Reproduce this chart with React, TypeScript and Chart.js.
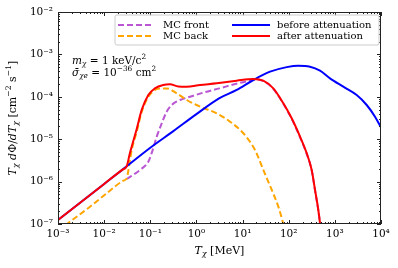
import { useEffect, useRef } from 'react';
import { Chart, registerables } from 'chart.js';

Chart.register(...registerables);

const FONT = '"DejaVu Serif", serif';

// ---- data (energies in MeV, flux in cm^-2 s^-1) ----
const frontEnergy = [0.0308, 0.0598, 0.0906, 0.107, 0.138, 0.177, 0.227, 0.291, 0.441, 0.726, 1.67, 3.16, 6.31, 12.6, 20, 28.1, 46.3, 76.4, 116, 176, 245, 315, 372, 438, 476, 525];
const frontFlux = [1.15e-6, 1.88e-6, 2.95e-6, 4.68e-6, 1.15e-5, 2.37e-5, 4.46e-5, 6.41e-5, 8.41e-5, 1.0e-4, 1.32e-4, 1.58e-4, 1.95e-4, 2.34e-4, 2.57e-4, 2.34e-4, 1.55e-4, 6.84e-5, 3.02e-5, 1.11e-5, 4.52e-6, 1.82e-6, 6.17e-7, 2.09e-7, 1.02e-7, 3.2e-8];

const backEnergy = [0.001, 0.00155, 0.00494, 0.01135, 0.026, 0.0308, 0.0334, 0.0363, 0.0395, 0.0508, 0.0652, 0.0906, 0.126, 0.163, 0.227, 0.374, 0.615, 1.2, 2.75, 5.35, 10.4, 18.6, 28.2, 42.9, 59.6, 74.1, 85];
const backFlux = [7.1e-8, 1.0e-7, 2.56e-7, 5.3e-7, 1.05e-6, 1.19e-6, 1.8e-6, 3.2e-6, 5.5e-6, 1.5e-5, 4.4e-5, 1.0e-4, 1.45e-4, 1.58e-4, 1.58e-4, 1.21e-4, 8.41e-5, 5.85e-5, 4.08e-5, 2.59e-5, 1.38e-5, 5.56e-6, 1.88e-6, 6.34e-7, 2.56e-7, 1.13e-7, 6e-8];

const beforeEnergy = [0.001, 0.01, 0.025, 0.0308, 0.1, 0.316, 1.0, 3.16, 7.46, 17.1, 39.4, 90.6, 161, 289, 476, 785, 1524, 2972, 4898, 7413, 10000];
const beforeFlux = [1.24e-7, 8.8e-7, 1.92e-6, 2.3e-6, 6.3e-6, 1.55e-5, 3.9e-5, 9.3e-5, 1.45e-4, 2.49e-4, 3.91e-4, 5.01e-4, 5.42e-4, 5.13e-4, 4.13e-4, 2.73e-4, 1.73e-4, 1.1e-4, 6.41e-5, 3.4e-5, 1.9e-5];

const afterEnergy = [0.001, 0.01, 0.025, 0.0308, 0.036, 0.0395, 0.0508, 0.0652, 0.0906, 0.126, 0.191, 0.267, 0.405, 0.615, 1.2, 2.75, 7.46, 17.1, 28.1, 46.3, 76.4, 116, 176, 245, 315, 372, 438, 476, 525];
const afterFlux = [1.24e-7, 8.8e-7, 1.92e-6, 2.3e-6, 4.6e-6, 6.65e-6, 1.75e-5, 4.9e-5, 1.1e-4, 1.58e-4, 1.9e-4, 1.97e-4, 1.75e-4, 1.73e-4, 1.9e-4, 2.08e-4, 2.4e-4, 2.63e-4, 2.4e-4, 1.58e-4, 7.03e-5, 3.11e-5, 1.15e-5, 4.68e-6, 1.88e-6, 6.34e-7, 2.14e-7, 1.05e-7, 3.2e-8];

const xTickValues = [1e-3, 1e-2, 1e-1, 1, 10, 100, 1e3, 1e4];
const xTickLabels = ['10⁻³', '10⁻²', '10⁻¹', '10⁰', '10¹', '10²', '10³', '10⁴'];
const yTickValues = [1e-7, 1e-6, 1e-5, 1e-4, 1e-3, 1e-2];
const yTickLabels = ['10⁻⁷', '10⁻⁶', '10⁻⁵', '10⁻⁴', '10⁻³', '10⁻²'];

const seriesLabels = ['MC front', 'MC back', 'before attenuation', 'after attenuation'];
const seriesColors = ['#BA55D3', '#FFA500', '#0000FF', '#FF0000'];
const DASH = [6, 3];

type Seg = { t: string; it?: boolean; sub?: boolean; sup?: boolean };

function segFont(s: Seg, size: number) {
  const sz = s.sub || s.sup ? size * 0.7 : size;
  return `${s.it ? 'italic ' : ''}${sz}px ${FONT}`;
}

function drawRich(ctx: CanvasRenderingContext2D, segs: Seg[], x: number, y: number, size: number, align: 'left' | 'center') {
  ctx.textBaseline = 'middle';
  ctx.textAlign = 'left';
  let total = 0;
  for (const s of segs) {
    ctx.font = segFont(s, size);
    total += ctx.measureText(s.t).width;
  }
  let cx = align === 'center' ? x - total / 2 : x;
  for (const s of segs) {
    ctx.font = segFont(s, size);
    const dy = s.sub ? size * 0.28 : s.sup ? -size * 0.38 : 0;
    ctx.fillText(s.t, cx, y + dy);
    cx += ctx.measureText(s.t).width;
  }
}

const overlay = {
  id: 'overlay',
  afterDraw(chart: any) {
    const { ctx, chartArea } = chart;
    const { left, right, top, bottom } = chartArea;
    const xs = chart.scales.x;
    const ys = chart.scales.y;
    ctx.save();
    ctx.strokeStyle = '#222';
    ctx.lineWidth = 1;
    ctx.setLineDash([]);
    ctx.beginPath();
    for (let e = -3; e <= 4; e++) {
      for (let m = 1; m <= 9; m++) {
        if (e === 4 && m > 1) break;
        const v = m * Math.pow(10, e);
        const px = Math.round(xs.getPixelForValue(v)) + 0.5;
        const len = m === 1 ? 4 : 2;
        ctx.moveTo(px, bottom);
        ctx.lineTo(px, bottom - len);
        ctx.moveTo(px, top);
        ctx.lineTo(px, top + len);
      }
    }
    for (let e = -7; e <= -2; e++) {
      for (let m = 1; m <= 9; m++) {
        if (e === -2 && m > 1) break;
        const v = m * Math.pow(10, e);
        const py = Math.round(ys.getPixelForValue(v)) + 0.5;
        const len = m === 1 ? 4 : 2;
        ctx.moveTo(left, py);
        ctx.lineTo(left + len, py);
        ctx.moveTo(right, py);
        ctx.lineTo(right - len, py);
      }
    }
    ctx.stroke();
    ctx.strokeRect(left + 0.5, top + 0.5, right - left - 1, bottom - top - 1);

    // legend
    const lx = 115, ly = 15, lw = 264, lh = 30;
    ctx.beginPath();
    const r = 2;
    ctx.moveTo(lx + r, ly);
    ctx.arcTo(lx + lw, ly, lx + lw, ly + lh, r);
    ctx.arcTo(lx + lw, ly + lh, lx, ly + lh, r);
    ctx.arcTo(lx, ly + lh, lx, ly, r);
    ctx.arcTo(lx, ly, lx + lw, ly, r);
    ctx.closePath();
    ctx.fillStyle = 'rgba(255,255,255,0.8)';
    ctx.fill();
    ctx.strokeStyle = '#cccccc';
    ctx.stroke();
    const items = [
      { x0: 118, x1: 152, tx: 163, y: 25, i: 0, dash: true },
      { x0: 118, x1: 152, tx: 163, y: 36, i: 1, dash: true },
      { x0: 232, x1: 270, tx: 277, y: 25, i: 2, dash: false },
      { x0: 232, x1: 270, tx: 277, y: 36, i: 3, dash: false },
    ];
    for (const it of items) {
      ctx.beginPath();
      ctx.strokeStyle = seriesColors[it.i];
      ctx.lineWidth = 2;
      ctx.setLineDash(it.dash ? DASH : []);
      ctx.moveTo(it.x0, it.y);
      ctx.lineTo(it.x1, it.y);
      ctx.stroke();
      ctx.setLineDash([]);
      ctx.fillStyle = '#000';
      ctx.font = `10px ${FONT}`;
      ctx.textBaseline = 'middle';
      ctx.textAlign = 'left';
      ctx.fillText(seriesLabels[it.i], it.tx, it.y);
    }

    // annotation
    ctx.fillStyle = '#000';
    drawRich(ctx, [{ t: 'm', it: true }, { t: 'χ', it: true, sub: true }, { t: ' = 1 keV/c' }, { t: '2', sup: true }], 72, 61, 10.5, 'left');
    drawRich(ctx, [{ t: 'σ̄', it: true }, { t: 'χe', it: true, sub: true }, { t: ' = 10' }, { t: '−36', sup: true }, { t: ' cm' }, { t: '2', sup: true }], 72, 73, 10.5, 'left');

    // axis titles
    drawRich(ctx, [{ t: 'T', it: true }, { t: 'χ', it: true, sub: true }, { t: ' [MeV]' }], (left + right) / 2, 251, 11, 'center');
    ctx.save();
    ctx.translate(13, (top + bottom) / 2);
    ctx.rotate(-Math.PI / 2);
    drawRich(ctx, [
      { t: 'T', it: true }, { t: 'χ', it: true, sub: true }, { t: ' d', it: true }, { t: 'Φ' }, { t: '/' }, { t: 'dT', it: true }, { t: 'χ', it: true, sub: true },
      { t: ' [cm' }, { t: '−2', sup: true }, { t: ' s' }, { t: '−1', sup: true }, { t: ']' },
    ], 0, 0, 11, 'center');
    ctx.restore();
    ctx.restore();
  },
};

function pts(xv: number[], yv: number[]) {
  return xv.map((v, i) => ({ x: v, y: yv[i] }));
}

export default function App() {
  const ref = useRef<HTMLCanvasElement>(null);
  useEffect(() => {
    if (!ref.current) return;
    const common = { showLine: true, pointRadius: 0, borderWidth: 2, cubicInterpolationMode: 'monotone' as const, fill: false };
    const chart = new Chart(ref.current, {
      type: 'scatter',
      data: {
        datasets: [
          { ...common, label: seriesLabels[0], data: pts(frontEnergy, frontFlux), borderColor: seriesColors[0], borderDash: DASH, order: 3 },
          { ...common, label: seriesLabels[1], data: pts(backEnergy, backFlux), borderColor: seriesColors[1], borderDash: DASH, order: 2 },
          { ...common, label: seriesLabels[2], data: pts(beforeEnergy, beforeFlux), borderColor: seriesColors[2], order: 1 },
          { ...common, label: seriesLabels[3], data: pts(afterEnergy, afterFlux), borderColor: seriesColors[3], order: 0 },
        ],
      },
      options: {
        animation: false,
        responsive: false,
        layout: { padding: { left: 0, top: 12, right: 17, bottom: 0 } },
        plugins: { legend: { display: false }, tooltip: { enabled: false } },
        scales: {
          x: {
            type: 'logarithmic',
            min: 1e-3,
            max: 1e4,
            grid: { display: false, drawTicks: false },
            border: { display: false },
            afterBuildTicks: (s: any) => { s.ticks = xTickValues.map((v) => ({ value: v })); },
            afterFit: (s: any) => { s.height = 44; },
            ticks: {
              autoSkip: false,
              maxRotation: 0,
              padding: 4,
              color: '#000',
              font: { family: FONT, size: 10.5 },
              callback: (_v: any, i: number) => xTickLabels[i],
            },
          },
          y: {
            type: 'logarithmic',
            min: 1e-7,
            max: 1e-2,
            grid: { display: false, drawTicks: false },
            border: { display: false },
            afterBuildTicks: (s: any) => { s.ticks = yTickValues.map((v) => ({ value: v })); },
            afterFit: (s: any) => { s.width = 58; },
            ticks: {
              autoSkip: false,
              padding: 5,
              color: '#000',
              font: { family: FONT, size: 10.5 },
              callback: (_v: any, i: number) => yTickLabels[i],
            },
          },
        },
      },
      plugins: [overlay],
    });
    return () => chart.destroy();
  }, []);
  return (
    <div style={{ position: 'fixed', left: 0, top: 0, width: 398, height: 268, background: '#fff' }}>
      <canvas ref={ref} width={398} height={268} style={{ width: 398, height: 268 }} />
    </div>
  );
}
